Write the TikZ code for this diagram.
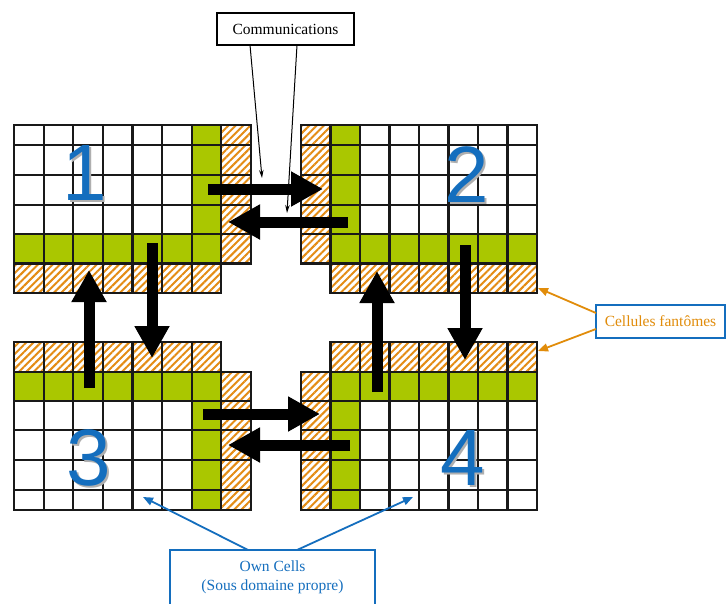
\documentclass[tikz,border=0pt]{standalone}
\usepackage{fontspec}
\setmainfont{Liberation Serif}
\newfontfamily\numfont{Liberation Sans}
\usetikzlibrary{arrows.meta,patterns.meta}
\definecolor{greenc}{RGB}{170,199,0}
\definecolor{orangec}{RGB}{228,140,20}
\definecolor{gridc}{RGB}{25,25,25}
\definecolor{bluec}{RGB}{20,110,190}
\definecolor{shadowc}{RGB}{175,175,175}
\definecolor{arrorange}{RGB}{225,140,10}
\begin{document}
\begin{tikzpicture}[x=1pt,y=-1pt,
  grid/.style={draw=gridc,line width=2.2pt},
  hatch/.style={preaction={fill=white},pattern={Lines[angle=45,distance=5.2pt,line width=2pt]},pattern color=orangec},
  bigarrow/.style={line width=11pt,-{Triangle[length=32pt,width=33pt]}},
  digit/.style={font=\numfont\fontsize{80}{80}\selectfont,inner sep=0pt,anchor=center},
  thinarrow/.style={line width=1pt,-{Stealth[length=8pt,width=4.5pt]}},
  orarrow/.style={draw=arrorange,line width=1.8pt,-{Triangle[length=10pt,width=8pt]}},
  bluearrow/.style={draw=bluec,line width=1.8pt,-{Triangle[length=10pt,width=8pt]}},
  labelbox/.style={font=\fontsize{15.5}{19}\selectfont,align=center,inner sep=0pt}
]
\useasboundingbox (0,0) rectangle (727,604);
\clip (0,0) rectangle (727,604);
\fill[white] (0,0) rectangle (727,604);

% ---------- Block 1 ----------
\fill[white] (14,125) rectangle (191.6,234);
\fill[greenc] (191.6,125) rectangle (221.2,263.5);
\fill[greenc] (14,234) rectangle (221.2,263.5);
\path[hatch] (221.2,125) rectangle (250.8,263.5);
\path[hatch] (14,263.5) rectangle (221.2,293);
\foreach \ya/\yb in {125/145,145/175,175/205,205/234,234/263.5}{
  \foreach \c in {0,...,7}{
    \draw[grid] ({14+29.6*\c},\ya) rectangle ({14+29.6*(\c+1)},\yb);
  }
}
\foreach \c in {0,...,6}{
  \draw[grid] ({14+29.6*\c},263.5) rectangle ({14+29.6*(\c+1)},293);
}

% ---------- Block 2 ----------
\fill[white] (360,125) rectangle (537,234);
\fill[greenc] (330.5,125) rectangle (360,263.5);
\fill[greenc] (330.5,234) rectangle (537,263.5);
\path[hatch] (301,125) rectangle (330.5,263.5);
\path[hatch] (330.5,263.5) rectangle (537,293);
\foreach \ya/\yb in {125/145,145/175,175/205,205/234,234/263.5}{
  \foreach \c in {0,...,7}{
    \draw[grid] ({301+29.5*\c},\ya) rectangle ({301+29.5*(\c+1)},\yb);
  }
}
\foreach \c in {1,...,7}{
  \draw[grid] ({301+29.5*\c},263.5) rectangle ({301+29.5*(\c+1)},293);
}

% ---------- Block 3 ----------
\path[hatch] (14,342) rectangle (221.2,372);
\fill[greenc] (14,372) rectangle (221.2,401);
\fill[greenc] (191.6,372) rectangle (221.2,510);
\path[hatch] (221.2,372) rectangle (250.8,510);
\fill[white] (14,401) rectangle (191.6,510);
\foreach \c in {0,...,6}{
  \draw[grid] ({14+29.6*\c},342) rectangle ({14+29.6*(\c+1)},372);
}
\foreach \ya/\yb in {372/401,401/430,430/460,460/490,490/510}{
  \foreach \c in {0,...,7}{
    \draw[grid] ({14+29.6*\c},\ya) rectangle ({14+29.6*(\c+1)},\yb);
  }
}

% ---------- Block 4 ----------
\path[hatch] (330.5,342) rectangle (537,372);
\path[hatch] (301,372) rectangle (330.5,510);
\fill[greenc] (330.5,372) rectangle (537,401);
\fill[greenc] (330.5,372) rectangle (360,510);
\fill[white] (360,401) rectangle (537,510);
\foreach \c in {1,...,7}{
  \draw[grid] ({301+29.5*\c},342) rectangle ({301+29.5*(\c+1)},372);
}
\foreach \ya/\yb in {372/401,401/430,430/460,460/490,490/510}{
  \foreach \c in {0,...,7}{
    \draw[grid] ({301+29.5*\c},\ya) rectangle ({301+29.5*(\c+1)},\yb);
  }
}

% ---------- Domain numbers (with grey drop shadow) ----------
\node[digit,text=shadowc] (s1) at (87,175) {1};
\node[digit,text=bluec]   (n1) at (84.5,172.5) {1};
\node[digit,text=shadowc] (s2) at (469,177) {2};
\node[digit,text=bluec]   (n2) at (466.5,174.5) {2};
\node[digit,text=shadowc] (s3) at (91,460) {3};
\node[digit,text=bluec]   (n3) at (88.5,457.5) {3};
\node[digit,text=shadowc] (s4) at (465,460) {4};
\node[digit,text=bluec]   (n4) at (462.5,457.5) {4};

% ---------- Exchange arrows ----------
\coordinate (a1s) at (208,189);  \coordinate (a1e) at (323,189);
\coordinate (a2s) at (348,222);  \coordinate (a2e) at (228,222);
\coordinate (a3s) at (152,243);  \coordinate (a3e) at (152,358);
\coordinate (a4s) at (89,388);   \coordinate (a4e) at (89,270);
\coordinate (a5s) at (377,392);  \coordinate (a5e) at (377,271);
\coordinate (a6s) at (465,245);  \coordinate (a6e) at (465,360);
\coordinate (a7s) at (203,414);  \coordinate (a7e) at (320,414);
\coordinate (a8s) at (350,445);  \coordinate (a8e) at (228,445);
\foreach \k in {1,...,8}{
  \draw[bigarrow] (a\k s) -- (a\k e);
}

% ---------- Communications label ----------
\node[draw=black,line width=1.4pt,minimum width=137pt,minimum height=32pt,labelbox] (comm) at (285.5,29) {Communications};
\coordinate (c1s) at (250,45); \coordinate (c1e) at (262,178);
\coordinate (c2s) at (297,45); \coordinate (c2e) at (287,213);
\draw[thinarrow] (c1s) -- (c1e);
\draw[thinarrow] (c2s) -- (c2e);

% ---------- Cellules fantomes label ----------
\node[draw=bluec,line width=2pt,minimum width=129pt,minimum height=33pt,labelbox,text=arrorange] (ghost) at (660.5,321.5) {Cellules fantômes};
\coordinate (g1s) at (596,313); \coordinate (g1e) at (538,288);
\coordinate (g2s) at (596,329); \coordinate (g2e) at (538,351);
\draw[orarrow] (g1s) -- (g1e);
\draw[orarrow] (g2s) -- (g2e);

% ---------- Own cells label ----------
\draw[draw=bluec,line width=2pt] (170,620) -- (170,550) -- (375,550) -- (375,620);
\node[labelbox,text=bluec] (own) at (272.5,577.5) {Own Cells\\(Sous domaine propre)};
\coordinate (o1s) at (248,550); \coordinate (o1e) at (143,497);
\coordinate (o2s) at (297,550); \coordinate (o2e) at (413,497);
\draw[bluearrow] (o1s) -- (o1e);
\draw[bluearrow] (o2s) -- (o2e);
\end{tikzpicture}
\end{document}
